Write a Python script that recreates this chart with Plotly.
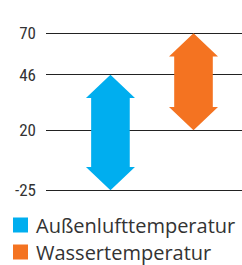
import numpy as np
import plotly.graph_objects as go

# ---- data ----
series_names = ["Außenlufttemperatur", "Wassertemperatur"]
range_low = [-25, 20]
range_high = [46, 70]
colors = ["#00AEEF", "#F47321"]
tick_values = [-25, 20, 46, 70]
tick_labels = ["-25", "20", "46", "70"]

# ---- layout (pixels) ----
W, H = 242, 265
ML, MR, MT, MB = 46, 0, 28, 69
PW, PH = W - ML - MR, H - MT - MB
# display positions (px from plot bottom) of the tick values (non-linear axis of original)
tick_pos = [5.7, 65.7, 121.3, 162.7]
def ymap(v):
    return float(np.interp(v, tick_values, tick_pos))

xr = [-0.776, 1.584]
xu = (xr[1] - xr[0]) / PW   # x units per pixel
head_hw, shaft_hw, head_h = 24.5 * xu, 19.3 * xu, 23.2

fig = go.Figure()
for i, (name, lo, hi, c) in enumerate(zip(series_names, range_low, range_high, colors)):
    top, bot = ymap(hi), ymap(lo)
    xs = [i, i + head_hw, i + shaft_hw, i + shaft_hw, i + head_hw, i,
          i - head_hw, i - shaft_hw, i - shaft_hw, i - head_hw, i]
    ys = [top, top - head_h, top - head_h, bot + head_h, bot + head_h, bot,
          bot + head_h, bot + head_h, top - head_h, top - head_h, top]
    fig.add_trace(go.Scatter(x=xs, y=ys, fill="toself", fillcolor=c, mode="lines",
                             line=dict(width=0, color=c), name=name, showlegend=False,
                             hoverinfo="skip"))

def px_x(p):
    return (p - ML) / PW
def px_y(p):
    return (MT + PH - p) / PH

shapes, annotations = [], []
leg_rows = [225.0, 252.0]
for name, c, yc in zip(series_names, colors, leg_rows):
    shapes.append(dict(type="rect", xref="paper", yref="paper",
                       x0=px_x(13), x1=px_x(28), y0=px_y(yc + 7.5), y1=px_y(yc - 7.5),
                       fillcolor=c, line=dict(width=0)))
    annotations.append(dict(text=name, xref="paper", yref="paper", x=px_x(34), y=px_y(yc),
                            xanchor="left", yanchor="middle", showarrow=False,
                            font=dict(family="Open Sans, Noto Sans, sans-serif", size=20, color="#333333")))

fig.update_layout(
    width=W, height=H, margin=dict(l=ML, r=MR, t=MT, b=MB),
    paper_bgcolor="white", plot_bgcolor="white", showlegend=False,
    shapes=shapes, annotations=annotations,
    xaxis=dict(range=xr, visible=False, fixedrange=True),
    yaxis=dict(range=[0, PH], tickvals=[ymap(v) for v in tick_values], ticktext=tick_labels,
               showgrid=True, gridcolor="#222222", gridwidth=1.3, zeroline=False, showline=False,
               ticks="", ticklabelstandoff=9,
               tickfont=dict(family="Liberation Sans Narrow, Roboto Condensed, Roboto, sans-serif",
                             size=17, color="#333333"), fixedrange=True),
)
fig.write_html("out.html", config={"displayModeBar": False},
               post_script="document.body.style.margin='0';document.body.style.overflow='hidden';")
